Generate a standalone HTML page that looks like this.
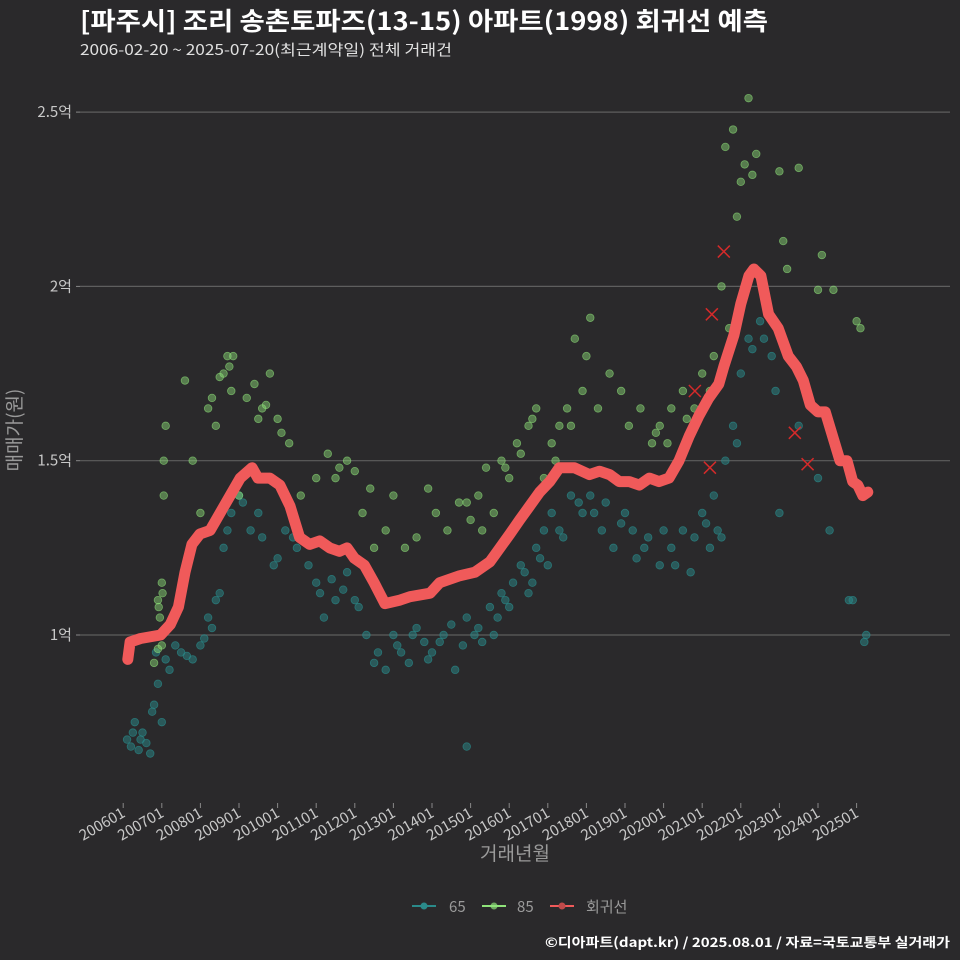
<!DOCTYPE html>
<html><head><meta charset="utf-8">
<style>
html,body{margin:0;padding:0;background:#2a292b;}
svg{display:block;font-family:"Noto Sans CJK KR","Liberation Sans",sans-serif;}
</style></head>
<body>
<svg id="chart" width="960" height="960" viewBox="0 0 960 960" xmlns="http://www.w3.org/2000/svg">
<rect width="960" height="960" fill="#2a292b"/>
<text x="80" y="30" fill="#ffffff" font-size="25" font-weight="bold" textLength="688" lengthAdjust="spacingAndGlyphs">[파주시] 조리 송촌토파즈(13-15) 아파트(1998) 회귀선 예측</text>
<text x="80" y="55" fill="#e0e0e0" font-size="15" textLength="372" lengthAdjust="spacingAndGlyphs">2006-02-20 ~ 2025-07-20(최근계약일) 전체 거래건</text>
<g id="grid"></g>
<g id="pts"></g>
<g id="line"></g>
<g id="xs"></g>
<g id="xaxis"></g>
<text x="515" y="860" fill="#9a9a9a" font-size="19" text-anchor="middle">거래년월</text>
<text transform="translate(21,430) rotate(-90)" fill="#9a9a9a" font-size="19" text-anchor="middle">매매가(원)</text>
<g>
<g><line x1="412" y1="906" x2="436" y2="906" stroke="#2a8a8a" stroke-width="2"/><circle cx="424" cy="906" r="3.5" fill="#2a8a8a"/><text x="449" y="912" fill="#9a9a9a" font-size="15">65</text></g>
<g><line x1="482" y1="906" x2="506" y2="906" stroke="#8fe37a" stroke-width="2"/><circle cx="494" cy="906" r="3.5" fill="#8fe37a" opacity="0.7"/><text x="517" y="912" fill="#9a9a9a" font-size="15">85</text></g>
<g><line x1="550" y1="906" x2="574" y2="906" stroke="#f05a5a" stroke-width="2"/><circle cx="562" cy="906" r="3.5" fill="#c04a4a"/><text x="586" y="912" fill="#9a9a9a" font-size="15">회귀선</text></g>
</g>
<text x="950" y="947" fill="#ffffff" font-size="13" font-weight="bold" text-anchor="end" textLength="405" lengthAdjust="spacingAndGlyphs">©디아파트(dapt.kr) / 2025.08.01 / 자료=국토교통부 실거래가</text>
</svg>
<script>
const yTicks=[1,1.5,2,2.5];
const yTickLabels=["1억","1.5억","2억","2.5억"];
const xTickYears=[2006,2007,2008,2009,2010,2011,2012,2013,2014,2015,2016,2017,2018,2019,2020,2021,2022,2023,2024,2025];
const lineT=[2006.12,2006.18,2006.45,2006.97,2007.22,2007.43,2007.6,2007.78,2007.99,2008.25,2008.51,2008.77,2009.03,2009.34,2009.49,2009.8,2010.06,2010.32,2010.57,2010.83,2011.09,2011.35,2011.6,2011.8,2011.99,2012.25,2012.5,2012.78,2013.17,2013.43,2013.95,2014.2,2014.72,2015.11,2015.5,2015.76,2016.02,2016.27,2016.53,2016.79,2017.05,2017.3,2017.69,2018.08,2018.34,2018.6,2018.85,2019.11,2019.37,2019.63,2019.88,2020.14,2020.4,2020.66,2020.92,2021.17,2021.43,2021.56,2021.82,2022.0,2022.21,2022.34,2022.52,2022.72,2022.97,2023.23,2023.44,2023.62,2023.8,2024.0,2024.19,2024.57,2024.75,2024.9,2025.03,2025.16,2025.29];
const lineV=[0.93,0.98,0.99,1.00,1.03,1.08,1.18,1.26,1.29,1.30,1.35,1.40,1.45,1.48,1.45,1.45,1.43,1.37,1.28,1.26,1.27,1.25,1.24,1.25,1.22,1.20,1.15,1.09,1.10,1.11,1.12,1.15,1.17,1.18,1.21,1.25,1.29,1.33,1.37,1.41,1.44,1.48,1.48,1.46,1.47,1.46,1.44,1.44,1.43,1.45,1.44,1.45,1.50,1.57,1.63,1.68,1.72,1.77,1.86,1.95,2.03,2.05,2.03,1.92,1.88,1.80,1.77,1.73,1.66,1.64,1.64,1.50,1.50,1.44,1.43,1.40,1.41];
const p65T=[2006.1,2006.2,2006.3,2006.4,2006.5,2006.6,2006.7,2006.8,2006.9,2007.0,2007.2,2007.5,2007.8,2008.0,2008.2,2008.4,2008.6,2008.8,2009.0,2009.3,2009.6,2009.9,2010.2,2010.5,2010.8,2011.0,2011.2,2011.5,2011.8,2012.0,2012.3,2012.5,2012.8,2013.0,2013.2,2013.4,2013.6,2013.8,2014.0,2014.3,2014.6,2014.9,2015.1,2015.3,2015.5,2015.7,2015.9,2016.1,2016.3,2016.5,2016.7,2016.9,2017.1,2017.3,2017.6,2017.9,2018.1,2018.4,2018.7,2019.0,2019.3,2019.6,2019.9,2020.2,2020.5,2020.8,2021.0,2021.2,2021.4,2021.6,2021.8,2022.0,2022.2,2022.5,2022.8,2023.0,2023.5,2024.0,2024.3,2024.8,2024.9,2025.2,2025.25,2014.9,
2006.25,2006.45,2006.75,2006.85,2007.1,2007.35,2007.65,2008.1,2008.3,2008.5,2008.7,2008.9,2009.1,2009.5,2010.0,2010.4,2011.1,2011.4,2011.7,2012.1,2012.6,2013.1,2013.5,2013.9,2014.2,2014.5,2014.8,2015.2,2015.6,2015.8,2016.0,2016.4,2016.6,2016.8,2017.0,2017.4,2017.8,2018.2,2018.5,2018.9,2019.2,2019.5,2020.0,2020.3,2020.7,2021.1,2021.3,2021.5,2021.9,2022.3,2022.6,2022.9];
const p65V=[0.70,0.68,0.75,0.67,0.72,0.69,0.66,0.80,0.86,0.75,0.90,0.95,0.93,0.97,1.05,1.10,1.25,1.35,1.40,1.30,1.28,1.20,1.30,1.25,1.20,1.15,1.05,1.10,1.18,1.10,1.00,0.92,0.90,1.00,0.95,0.92,1.02,0.98,0.95,1.00,0.90,1.05,1.00,0.98,1.08,1.05,1.10,1.15,1.20,1.12,1.25,1.30,1.35,1.30,1.40,1.35,1.40,1.30,1.25,1.35,1.22,1.28,1.20,1.25,1.30,1.28,1.35,1.25,1.30,1.50,1.60,1.75,1.85,1.90,1.80,1.35,1.60,1.45,1.30,1.10,1.10,0.98,1.00,0.68,
0.72,0.70,0.78,0.95,0.93,0.97,0.94,0.99,1.02,1.12,1.30,1.42,1.38,1.35,1.22,1.28,1.12,1.16,1.13,1.08,0.95,0.97,1.00,0.93,0.98,1.03,0.97,1.02,1.00,1.12,1.08,1.18,1.15,1.22,1.20,1.28,1.38,1.35,1.38,1.32,1.30,1.25,1.30,1.20,1.18,1.32,1.40,1.28,1.55,1.82,1.85,1.70];
const p85T=[2006.8,2006.9,2006.95,2007.0,2007.05,2007.1,2007.05,2007.6,2007.8,2008.0,2008.2,2008.4,2008.6,2008.7,2008.8,2009.0,2009.2,2009.4,2009.6,2009.8,2010.0,2010.3,2010.6,2011.0,2011.3,2011.6,2011.8,2012.0,2012.2,2012.5,2012.8,2013.0,2013.3,2013.6,2013.9,2014.1,2014.4,2014.7,2015.0,2015.2,2015.4,2015.6,2015.8,2016.0,2016.2,2016.5,2016.7,2016.9,2017.1,2017.3,2017.5,2017.7,2017.9,2018.1,2018.3,2018.6,2018.9,2019.1,2019.4,2019.7,2019.9,2020.2,2020.5,2020.8,2021.0,2021.3,2021.5,2021.6,2021.8,2022.0,2022.2,2022.4,2022.1,2023.0,2023.1,2023.2,2023.5,2024.1,2024.0,2024.4,2025.0,2025.1,2007.0,2006.9,
2006.85,2006.92,2007.02,2008.3,2008.5,2008.75,2008.85,2009.5,2009.7,2010.1,2011.5,2012.4,2014.9,2015.3,2015.9,2016.3,2016.6,2017.2,2017.6,2018.0,2019.8,2020.1,2020.6,2021.2,2021.4,2021.7,2021.9,2022.3];
const p85V=[0.92,0.96,1.05,1.15,1.50,1.60,1.40,1.73,1.50,1.35,1.65,1.60,1.75,1.80,1.70,1.40,1.68,1.72,1.65,1.75,1.62,1.55,1.40,1.45,1.52,1.48,1.50,1.47,1.35,1.25,1.30,1.40,1.25,1.28,1.42,1.35,1.30,1.38,1.33,1.40,1.48,1.35,1.50,1.45,1.55,1.60,1.65,1.45,1.55,1.60,1.65,1.85,1.70,1.91,1.65,1.75,1.70,1.60,1.65,1.55,1.60,1.65,1.70,1.65,1.75,1.80,2.00,2.40,2.45,2.30,2.54,2.38,2.35,2.33,2.13,2.05,2.34,2.09,1.99,1.99,1.90,1.88,0.97,1.10,
1.00,1.08,1.12,1.68,1.74,1.77,1.80,1.62,1.66,1.58,1.45,1.42,1.38,1.30,1.48,1.52,1.62,1.50,1.60,1.80,1.58,1.55,1.62,1.70,1.72,1.88,2.20,2.32];
const outT=[2021.25,2020.81,2021.56,2021.2,2023.4,2023.73];
const outV=[1.92,1.70,2.10,1.48,1.58,1.49];

const NS="http://www.w3.org/2000/svg";
function xs(t){return 123.2+(t-2006)*38.6;}
function ys(v){return 635-(v-1)*348.6;}
function mk(tag,attrs,parent){const e=document.createElementNS(NS,tag);for(const k in attrs)e.setAttribute(k,attrs[k]);parent.appendChild(e);return e;}

const grid=document.getElementById('grid');
yTicks.forEach((v,i)=>{
  const l=mk('line',{x1:80,x2:950,y1:ys(v),y2:ys(v),stroke:'#5e5e5e','stroke-width':1.2},grid);
  
  
  const tk=mk('line',{x1:76,x2:80,y1:ys(v),y2:ys(v),stroke:'#888','stroke-width':1},grid);
  
  
  const t=mk('text',{x:72,y:ys(v)+5,fill:'#c8c8c8','font-size':15,'text-anchor':'end'},grid);
  
  
  t.textContent=yTickLabels[i];
});
const xa=document.getElementById('xaxis');
xTickYears.forEach(y=>{
  const x=xs(y);
  const tk=mk('line',{x1:x,x2:x,y1:803,y2:808,stroke:'#888','stroke-width':1},xa);
  
  
  const t=mk('text',{transform:`translate(${x+3},${816}) rotate(-30)`,fill:'#c8c8c8','font-size':15,'text-anchor':'end'},xa);
  
  
  t.textContent=y+'01';
});
const pts=document.getElementById('pts');
p65T.forEach((t,i)=>{
  const c=mk('circle',{cx:xs(t),cy:ys(p65V[i]),r:3.8,fill:'#2a8a8a','fill-opacity':0.5,stroke:'#2a8a8a','stroke-opacity':0.7,'stroke-width':0.8},pts);
  
  
});
p85T.forEach((t,i)=>{
  const c=mk('circle',{cx:xs(t),cy:ys(p85V[i]),r:3.8,fill:'#8fe37a','fill-opacity':0.45,stroke:'#8fe37a','stroke-opacity':0.6,'stroke-width':0.8},pts);
  
  
});
const d=lineT.map((t,i)=>(i?'L':'M')+xs(t).toFixed(1)+','+ys(lineV[i]).toFixed(1)).join('');
const pl=mk('path',{d:d,fill:'none',stroke:'#f05a5a','stroke-width':11,'stroke-linejoin':'round','stroke-linecap':'round'},document.getElementById('line'));


const xg=document.getElementById('xs');
outT.forEach((t,i)=>{
  const x=xs(t),y=ys(outV[i]);
  const p=mk('path',{d:`M${x-6},${y-6}L${x+6},${y+6}M${x-6},${y+6}L${x+6},${y-6}`,stroke:'#d42a2a','stroke-width':1.5},xg);
  
  
});
</script>
</body></html>
